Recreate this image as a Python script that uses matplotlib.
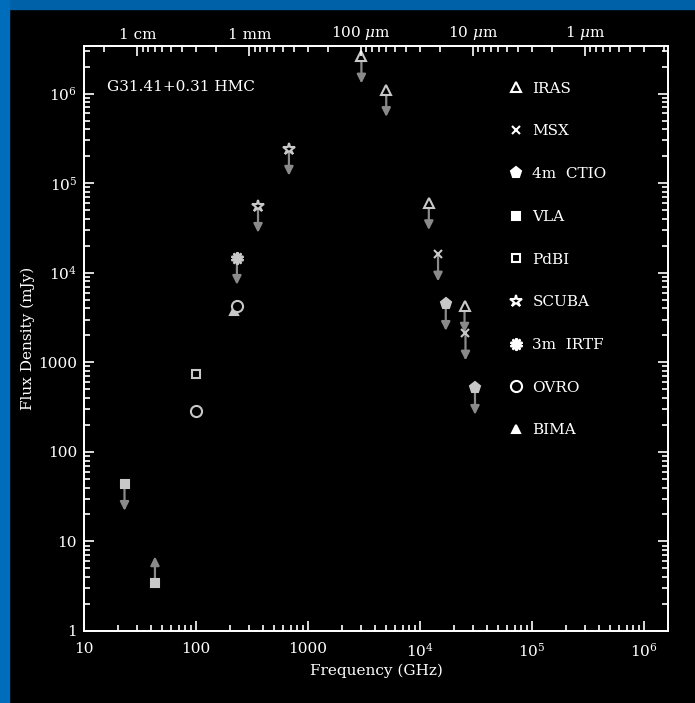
import numpy as np
import matplotlib
matplotlib.use('Agg')
import matplotlib.pyplot as plt
from matplotlib.lines import Line2D
from matplotlib.patches import Rectangle
from matplotlib.ticker import FixedLocator, FuncFormatter, LogLocator, NullFormatter

plt.rcParams['font.family'] = ['DejaVu Serif']
plt.rcParams['mathtext.fontset'] = 'dejavuserif'

# frequencies in GHz, flux densities in mJy
iras_freq = [3000, 5000, 12000, 25000]
iras_flux = [2.6e6, 1.1e6, 6.0e4, 4.3e3]
msx_freq = [14500, 25500]
msx_flux = [1.6e4, 2.1e3]
ctio_freq = [17000, 31000]
ctio_flux = [4.5e3, 520]
vla_freq = [23, 43]
vla_flux = [44, 3.4]
pdbi_freq = [100]
pdbi_flux = [740]
scuba_freq = [358, 676]
scuba_flux = [5.6e4, 2.43e5]
irtf_freq = [232]
irtf_flux = [1.47e4]
ovro_freq = [100, 232]
ovro_flux = [287, 4300]
bima_freq = [218]
bima_flux = [3700]

# +1 = upper limit (arrow down), -1 = lower limit (arrow up), 0 = detection
iras_lim = [1, 1, 1, 1]
msx_lim = [1, 1]
ctio_lim = [1, 1]
vla_lim = [1, -1]
pdbi_lim = [0]
scuba_lim = [1, 1]
irtf_lim = [1]
ovro_lim = [0, 0]
bima_lim = [0]

top_labels = ['1 cm', '1 mm', r'100 $\mu$m', r'10 $\mu$m', r'1 $\mu$m']
top_wavelength_um = [1e4, 1e3, 100, 10, 1]

C_UM = 2.99792458e5  # GHz * micron

point_col = '#c8c8c8'
arrow_col = '#8a8a8a'

# label, freq, flux, limits, marker, filled, size, zorder
series = [
    ('IRAS', iras_freq, iras_flux, iras_lim, '^', False, 7, 3),
    ('MSX', msx_freq, msx_flux, msx_lim, 'x', True, 6, 3),
    ('4m  CTIO', ctio_freq, ctio_flux, ctio_lim, 'p', True, 8, 3),
    ('VLA', vla_freq, vla_flux, vla_lim, 's', True, 6, 3),
    ('PdBI', pdbi_freq, pdbi_flux, pdbi_lim, 's', False, 6, 3),
    ('SCUBA', scuba_freq, scuba_flux, scuba_lim, '*', False, 9, 3),
    ('3m  IRTF', irtf_freq, irtf_flux, irtf_lim, (10, 1, 0), True, 9, 3),
    ('OVRO', ovro_freq, ovro_flux, ovro_lim, 'o', False, 8, 4),
    ('BIMA', bima_freq, bima_flux, bima_lim, '^', True, 6, 3),
]

fig = plt.figure(figsize=(6.95, 7.03), dpi=100, facecolor='black')

# blue frame on top and left
fig.add_artist(Rectangle((0, 1 - 9 / 703), 1, 9 / 703, transform=fig.transFigure,
                         color='#0060a8', zorder=0))
fig.add_artist(Rectangle((0, 0), 9 / 695, 1, transform=fig.transFigure,
                         color='#006cbc', zorder=0))

ax = fig.add_axes([84 / 695, 72 / 703, 584 / 695, 585 / 703])
ax.set_facecolor('black')
ax.set_xscale('log')
ax.set_yscale('log')
ax.set_xlim(10, 1.64e6)
ax.set_ylim(1, 3.4e6)

handles = []
labels = []
for name, fr, fl, lim, mk, filled, ms, zo in series:
    for f, s, l in zip(fr, fl, lim):
        if l != 0:
            end = s * 0.5 if l > 0 else s / 0.5
            ax.annotate('', xy=(f, end), xytext=(f, s),
                        arrowprops=dict(arrowstyle='-|>', color=arrow_col, lw=1.6,
                                        mutation_scale=13, shrinkA=0, shrinkB=0),
                        zorder=2)
    ax.plot(fr, fl, ls='none', marker=mk, ms=ms, mew=1.5, mec=point_col,
            mfc=point_col if filled else 'black', zorder=zo)
    handles.append(Line2D([], [], ls='none', marker=mk, ms=ms, mew=1.5, mec='white',
                          mfc='white' if filled else 'black'))
    labels.append(name)

ax.legend(handles, labels, loc='upper left', bbox_to_anchor=(0.726, 0.939),
          frameon=False, labelcolor='white', fontsize=11, labelspacing=1.88,
          handlelength=1.0, handletextpad=0.6, borderpad=0, borderaxespad=0)

ax.text(0.039, 0.930, 'G31.41+0.31 HMC', transform=ax.transAxes, color='white',
        fontsize=11, ha='left', va='center')


def pow_fmt(v, pos):
    e = int(round(np.log10(v)))
    if e < 4:
        return str(int(round(v)))
    return r'$10^{%d}$' % e


ax.xaxis.set_major_locator(LogLocator(base=10, numticks=20))
ax.xaxis.set_minor_locator(LogLocator(base=10, subs=np.arange(2, 10), numticks=100))
ax.yaxis.set_major_locator(LogLocator(base=10, numticks=20))
ax.yaxis.set_minor_locator(LogLocator(base=10, subs=np.arange(2, 10), numticks=100))
ax.xaxis.set_major_formatter(FuncFormatter(pow_fmt))
ax.yaxis.set_major_formatter(FuncFormatter(pow_fmt))
ax.xaxis.set_minor_formatter(NullFormatter())
ax.yaxis.set_minor_formatter(NullFormatter())

ax.tick_params(which='both', direction='in', colors='white', labelcolor='white',
               width=1.2, labelsize=11, top=False, right=True)
ax.tick_params(which='major', length=7.5)
ax.tick_params(which='minor', length=4)
ax.tick_params(axis='x', pad=8)
ax.tick_params(axis='y', pad=5)
for sp in ax.spines.values():
    sp.set_color('white')
    sp.set_linewidth(1.3)

ax.set_xlabel('Frequency (GHz)', color='white', fontsize=11)
ax.set_ylabel('Flux Density (mJy)', color='white', fontsize=11)
ax.xaxis.set_label_coords(0.5, -0.055)
ax.yaxis.set_label_coords(-0.084, 0.5)

# top axis in wavelength
ax2 = ax.twiny()
ax2.set_xscale('log')
ax2.set_xlim(ax.get_xlim())
major_f = [C_UM / w for w in top_wavelength_um]
minor_f = []
for n in range(-1, 5):
    for k in range(2, 10):
        f = C_UM / (k * 10.0 ** n)
        if 10 <= f <= 1.64e6:
            minor_f.append(f)
ax2.xaxis.set_major_locator(FixedLocator(major_f))
ax2.xaxis.set_minor_locator(FixedLocator(minor_f))
ax2.set_xticklabels(top_labels)
ax2.xaxis.set_minor_formatter(NullFormatter())
ax2.tick_params(axis='x', which='both', direction='in', colors='white',
                labelcolor='white', width=1.2, labelsize=11, pad=3)
ax2.tick_params(axis='x', which='major', length=7.5)
ax2.tick_params(axis='x', which='minor', length=4)
for sp in ax2.spines.values():
    sp.set_color('white')
    sp.set_linewidth(1.3)

fig.savefig('out.png', dpi=100, facecolor='black')
